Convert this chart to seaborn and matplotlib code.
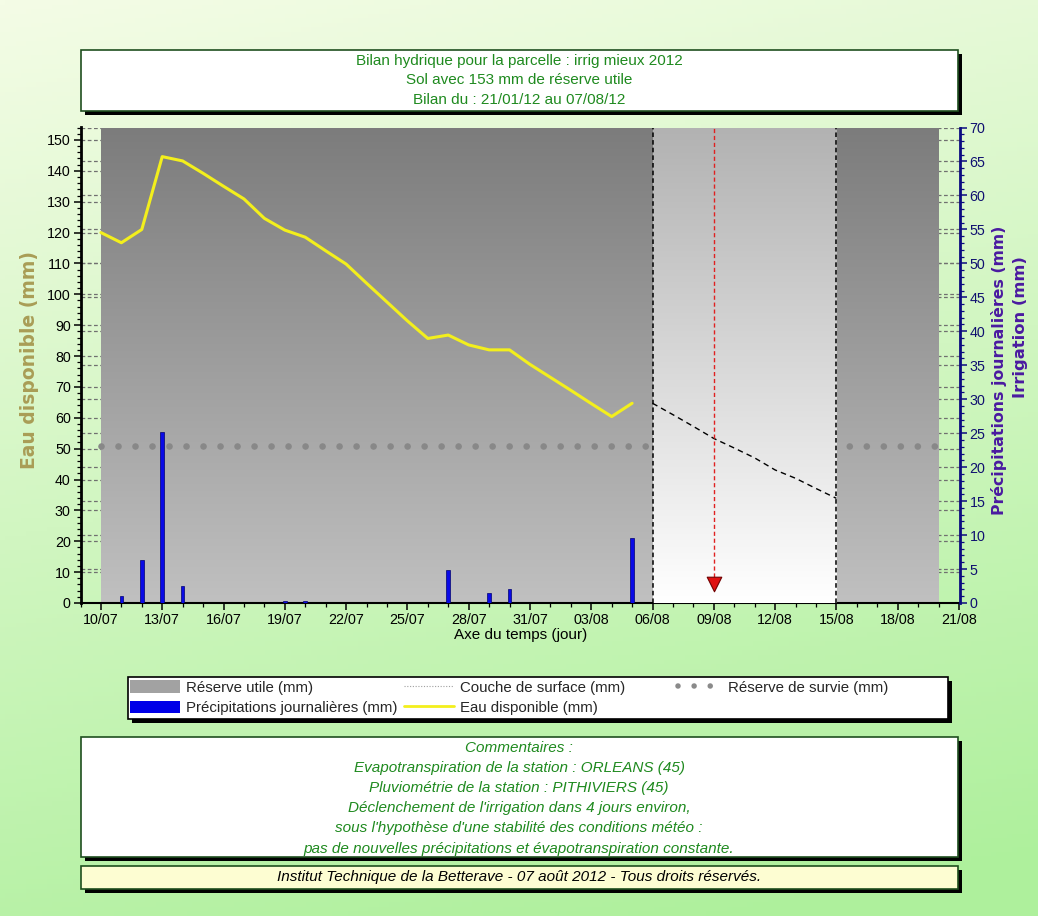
import numpy as np
import matplotlib
matplotlib.use("Agg")
import matplotlib.pyplot as plt
import seaborn as sns
from matplotlib.colors import LinearSegmentedColormap, to_rgb
from matplotlib.patches import Rectangle, Patch
from matplotlib.lines import Line2D
from matplotlib.transforms import blended_transform_factory
from matplotlib.ticker import MultipleLocator, FixedLocator

# ---------------- data ----------------
obs_days = list(range(0, 27))          # days after 10/07
eau_disponible = [120.0, 116.7, 121.0, 144.6, 143.2, 139.2, 135.0, 130.9, 124.6,
                  120.8, 118.5, 114.1, 109.8, 103.6, 97.5, 91.4, 85.7, 86.8,
                  83.6, 82.0, 82.0, 77.3, 73.1, 68.9, 64.6, 60.4, 64.7]
forecast_days = list(range(27, 37))
eau_prevision = [64.7, 61.0, 57.2, 53.3, 50.2, 47.0, 43.1, 40.4, 37.1, 33.9]
precip_days = [1, 2, 3, 4, 9, 10, 17, 19, 20, 26]
precip_mm = [1.0, 6.4, 25.1, 2.5, 0.3, 0.3, 4.8, 1.4, 2.0, 9.5]
reserve_utile = 153
reserve_survie = 51
reserve_period = [0, 41]
forecast_period = [27, 36]
irrigation_day = 30
irrigation_marker = 6
tick_days = list(range(0, 43, 3))
tick_labels = ["10/07", "13/07", "16/07", "19/07", "22/07", "25/07", "28/07",
               "31/07", "03/08", "06/08", "09/08", "12/08", "15/08", "18/08", "21/08"]
left_ticks = list(range(0, 151, 10))
right_ticks = list(range(0, 71, 5))

title_lines = ["Bilan hydrique pour la parcelle : irrig mieux 2012",
               "Sol avec 153 mm de réserve utile",
               "Bilan du : 21/01/12 au 07/08/12"]
comment_lines = ["Commentaires :",
                 "Evapotranspiration de la station : ORLEANS (45)",
                 "Pluviométrie de la station : PITHIVIERS (45)",
                 "Déclenchement de l'irrigation dans 4 jours environ,",
                 "sous l'hypothèse d'une stabilité des conditions météo :",
                 "pas de nouvelles précipitations et évapotranspiration constante."]
footer_text = "Institut Technique de la Betterave - 07 août 2012 - Tous droits réservés."

# ---------------- style ----------------
sns.set_theme(style="white")
plt.rcParams['font.family'] = ['Liberation Sans', 'DejaVu Sans']
FS_BOX = 11
FS_TICK = 10.3
FS_LEG = 10.8
W, H = 1038, 916

fig = plt.figure(figsize=(W / 100, H / 100), dpi=100)

# figure background gradient
bg = fig.add_axes([0, 0, 1, 1], zorder=-10)
top_c = np.array(to_rgb('#f4fce6'))
bot_c = np.array(to_rgb('#aef09c'))
yy, xx = np.mgrid[0:1:200j, 0:1:200j]
t = np.clip(0.85 * yy + 0.2 * xx, 0, 1)[..., None]
bg.imshow(top_c * (1 - t) + bot_c * t, extent=[0, 1, 0, 1], aspect='auto', origin='upper')
bg.axis('off')


def fx(px):
    return px / W


def fy(py):
    return 1 - py / H


def box(x0, y0, x1, y1, face='white', edge='#1f4f1f', shadow=4):
    fig.patches.append(Rectangle((fx(x0 + shadow), fy(y1 + shadow)), fx(x1 - x0), (y1 - y0) / H,
                                 transform=fig.transFigure, facecolor='black', edgecolor='none', zorder=1))
    fig.patches.append(Rectangle((fx(x0), fy(y1)), fx(x1 - x0), (y1 - y0) / H,
                                 transform=fig.transFigure, facecolor=face, edgecolor=edge,
                                 lw=1.2, zorder=2))


# ---------------- main axes ----------------
AX_TOP = 127.5
ax = fig.add_axes([fx(80.5), fy(603), fx(960 - 80.5), (603 - AX_TOP) / H])
ax.patch.set_visible(False)
ax2 = ax.twinx()
YTOP = (603 - AX_TOP) / 3.087
ax.set_xlim(-1, 42.05)
ax.set_ylim(0, YTOP)
ax2.set_ylim(0, 70)

gray_cmap = LinearSegmentedColormap.from_list('g', ['#7c7c7c', '#c0c0c0'])
light_cmap = LinearSegmentedColormap.from_list('l', ['#b2b2b2', '#ffffff'])
grad = np.linspace(0, 1, 256)[:, None]

# dashed gridlines (visible only beside the filled region)
for v in left_ticks:
    ax.axhline(v, color='#707070', lw=0.9, ls=(0, (3, 2)), zorder=0.5)
tr = blended_transform_factory(ax.transAxes, ax2.transData)
for v in right_ticks:
    ax.add_line(Line2D([0, 1], [v, v], transform=tr, color='#707070', lw=0.9,
                       ls=(0, (3, 2)), zorder=0.5))

# réserve utile (gray gradient), filling the plot height
ax.imshow(grad, extent=[reserve_period[0], reserve_period[1], 0, YTOP],
          cmap=gray_cmap, aspect='auto', origin='upper', zorder=1, interpolation='bilinear')

# réserve de survie (big gray dots)
ax.plot(reserve_period, [reserve_survie] * 2, color='#888888', lw=4.8,
        ls=(0, (0.001, 2.55)), dash_capstyle='round', zorder=2)

# forecast region
ax.imshow(grad, extent=[forecast_period[0], forecast_period[1], 0, YTOP],
          cmap=light_cmap, aspect='auto', origin='upper', zorder=3, interpolation='bilinear')
for d in forecast_period:
    ax.axvline(d, color='black', lw=1.1, ls=(0, (3, 2)), zorder=4)

sns.lineplot(x=forecast_days, y=eau_prevision, ax=ax, color='black', lw=1.0,
             linestyle=(0, (4, 3)), zorder=5)

# irrigation trigger
ax.axvline(irrigation_day, ymin=irrigation_marker / YTOP, color='#e02020', lw=1.0,
           ls=(0, (3, 2)), zorder=5)
ax.scatter([irrigation_day], [irrigation_marker], marker='v', s=110, color='#e01010',
           edgecolor='#700000', lw=0.8, zorder=6)

# eau disponible
sns.lineplot(x=obs_days, y=eau_disponible, ax=ax, color='#f3ef1c', lw=2.2, zorder=6)

# précipitations
ax2.bar(precip_days, precip_mm, width=0.17, color='#0a0ae6', edgecolor='#000070', lw=0.5, zorder=3)

ax.set_xlim(-1, 42.05)
ax.set_ylim(0, YTOP)
ax2.set_ylim(0, 70)

# ---------------- axes styling ----------------
for s in ['top', 'right']:
    ax.spines[s].set_visible(False)
ax.spines['left'].set_color('black')
ax.spines['left'].set_linewidth(2)
ax.spines['bottom'].set_color('black')
ax.spines['bottom'].set_linewidth(1.5)
for s in ['top', 'left', 'bottom']:
    ax2.spines[s].set_visible(False)
ax2.spines['right'].set_color('#0b0b80')
ax2.spines['right'].set_linewidth(2)

ax.xaxis.set_major_locator(FixedLocator(tick_days))
ax.set_xticklabels(tick_labels)
ax.xaxis.set_minor_locator(MultipleLocator(1))
ax.yaxis.set_major_locator(FixedLocator(left_ticks))
ax.yaxis.set_minor_locator(MultipleLocator(2))
ax2.yaxis.set_major_locator(FixedLocator(right_ticks))
ax2.yaxis.set_minor_locator(MultipleLocator(1))

ax.tick_params(axis='both', which='major', direction='out', length=5, width=1.1,
               color='black', labelsize=FS_TICK, labelcolor='black', pad=2,
               bottom=True, left=True)
ax.tick_params(axis='both', which='minor', direction='out', length=3, width=0.9,
               color='black', bottom=True, left=True)
ax2.tick_params(axis='y', which='major', direction='out', length=5, width=1.1,
                color='#0b0b80', labelsize=FS_TICK, labelcolor='#101070', pad=2, right=True)
ax2.tick_params(axis='y', which='minor', direction='out', length=3, width=0.9,
                color='#0b0b80', right=True)
ax.grid(False)
ax2.grid(False)
ax.set_xlabel("Axe du temps (jour)", fontsize=FS_BOX, color='black', labelpad=1)
ax.set_ylabel("")
ax2.set_ylabel("")

lab_font = ['DejaVu Sans']
fig.text(fx(30), fy(360), "Eau disponible (mm)", rotation=90, ha='center', va='center',
         fontsize=13.5, fontweight='bold', color='#a99d56', family=lab_font)
fig.text(fx(999), fy(370), "Précipitations journalières (mm)", rotation=90, ha='center',
         va='center', fontsize=11.3, fontweight='bold', color='#4a1aa0', family=lab_font)
fig.text(fx(1020), fy(327), "Irrigation (mm)", rotation=90, ha='center', va='center',
         fontsize=11.8, fontweight='bold', color='#4a1aa0', family=lab_font)

# ---------------- title box ----------------
box(81, 50, 958, 111)
for i, line in enumerate(title_lines):
    fig.text(0.5, fy(61 + 19.5 * i), line, ha='center', va='center', fontsize=FS_BOX,
             color='#1f8a1f', zorder=3)

# ---------------- legend ----------------
box(128, 677, 948, 719, edge='black')
h_res = Patch(facecolor='#a2a2a2', edgecolor='none')
h_pre = Patch(facecolor='#0000e8', edgecolor='none')
h_cou = Line2D([], [], color='#a0a0a0', lw=0.8, ls=(0, (1, 1.5)))
h_eau = Line2D([], [], color='#f3ef1c', lw=2)
h_sur = Line2D([], [], color='#8a8a8a', lw=4.0, ls=(0, (0.001, 2.9)), dash_capstyle='round')
cols = [([h_res, h_pre], ["Réserve utile (mm)", "Précipitations journalières (mm)"], 130, 3.33),
        ([h_cou, h_eau], ["Couche de surface (mm)", "Eau disponible (mm)"], 404, 3.33),
        ([h_sur], ["Réserve de survie (mm)"], 678, 2.9)]
for hs, ls_, x0, hl in cols:
    lg = fig.legend(hs, ls_, loc='upper left', bbox_to_anchor=(fx(x0), fy(680)),
                    frameon=False, fontsize=FS_LEG, handlelength=hl, handleheight=0.93,
                    handletextpad=0.4, labelspacing=0.4, borderpad=0, borderaxespad=0)
    lg.set_zorder(5)

# ---------------- comments box ----------------
box(81, 737, 958, 857)
for i, line in enumerate(comment_lines):
    fig.text(0.5, fy(747.5 + 20.2 * i), line, ha='center', va='center', fontsize=FS_BOX,
             style='italic', color='#1f8a1f', zorder=3)

# ---------------- footer ----------------
box(81, 866, 958, 889, face='#fdfdd2')
fig.text(0.5, fy(877.5), footer_text, ha='center', va='center', fontsize=FS_BOX,
         style='italic', color='black', zorder=3)

fig.savefig("out.png", dpi=100)
